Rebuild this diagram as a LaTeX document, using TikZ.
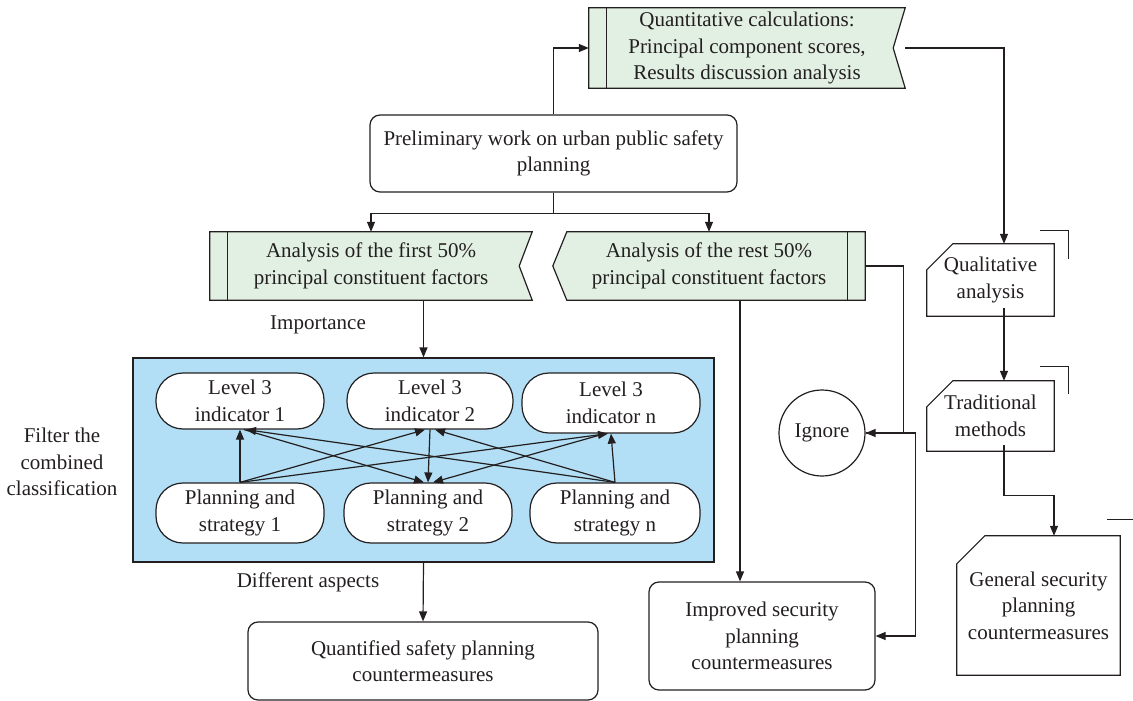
\documentclass[tikz,border=0pt]{standalone}
\usepackage{fontspec}
\setmainfont{Liberation Serif}
\usetikzlibrary{arrows.meta,backgrounds}
\definecolor{ink}{RGB}{35,31,32}
\definecolor{gfill}{RGB}{226,240,227}
\definecolor{bfill}{RGB}{178,223,246}
\begin{document}
\begin{tikzpicture}[x=1pt,y=-1pt,
  every node/.style={font=\fontsize{21}{26.5}\selectfont, text=ink, align=center, inner sep=0pt},
  conn/.style={draw=ink, line width=1.2pt},
  arr/.style={conn, -{Triangle[length=10pt,width=8pt]}},
  rbox/.style={draw=ink, line width=1.2pt, rounded corners=10pt, fill=white},
  pill/.style={draw=ink, line width=1.2pt, rounded corners=27pt, fill=white},
  banner/.style={minimum height=#1},
]
\useasboundingbox (0,0) rectangle (1133,701);

% banners (outlines on background layer)
\node[minimum width=316pt, minimum height=80pt] (quant) at (747,48)
  {Quantitative calculations:\\Principal component scores,\\Results discussion analysis};
\node[minimum width=322pt, minimum height=68pt] (lb) at (371,266)
  {Analysis of the first 50\%\\principal constituent factors};
\node[minimum width=312pt, minimum height=68pt] (rb) at (709,266)
  {Analysis of the rest 50\%\\principal constituent factors};
\begin{pgfonlayer}{background}
  \draw[conn, fill=gfill] (quant.north west) -- (quant.north east) -- ([xshift=-12pt]quant.east)
     -- (quant.south east) -- (quant.south west) -- cycle;
  \draw[conn] ([xshift=18pt]quant.north west) -- ([xshift=18pt]quant.south west);
  \draw[conn, fill=gfill] (lb.north west) -- (lb.north east) -- ([xshift=-13pt]lb.east)
     -- (lb.south east) -- (lb.south west) -- cycle;
  \draw[conn] ([xshift=18pt]lb.north west) -- ([xshift=18pt]lb.south west);
  \draw[conn, fill=gfill] ([xshift=14pt]rb.north west) -- (rb.north east) -- (rb.south east)
     -- ([xshift=14pt]rb.south west) -- (rb.west) -- cycle;
  \draw[conn] ([xshift=-18pt]rb.north east) -- ([xshift=-18pt]rb.south east);
\end{pgfonlayer}

% main boxes
\node[rbox, minimum width=367pt, minimum height=77pt] (prelim) at (553.5,153.5)
  {Preliminary work on urban public safety\\planning};
\node[draw=ink, line width=1.2pt, fill=bfill, minimum width=581pt, minimum height=204pt] (blue) at (423.5,460) {};
\node[pill, minimum width=168pt, minimum height=56pt] (i1) at (240,401) {Level 3\\indicator 1};
\node[pill, minimum width=166pt, minimum height=56pt] (i2) at (430,401) {Level 3\\indicator 2};
\node[pill, minimum width=178pt, minimum height=60pt] (i3) at (611,403) {Level 3\\indicator n};
\node[pill, minimum width=168pt, minimum height=60pt] (p1) at (240,513) {Planning and\\strategy 1};
\node[pill, minimum width=168pt, minimum height=60pt] (p2) at (428,513) {Planning and\\strategy 2};
\node[pill, minimum width=170pt, minimum height=60pt] (p3) at (615,513) {Planning and\\strategy n};
\node[rbox, minimum width=350pt, minimum height=78pt] (quantified) at (423,661)
  {Quantified safety planning\\countermeasures};
\node[rbox, minimum width=226pt, minimum height=108pt] (improved) at (762,636)
  {Improved security\\planning\\countermeasures};
\node[draw=ink, line width=1.2pt, circle, minimum size=86pt] (ignore) at (822,433) {Ignore};

% document shapes on the right
\node[minimum width=127pt, minimum height=72pt] (qual) at (990.5,280) {Qualitative\\analysis};
\node[minimum width=127pt, minimum height=70pt] (trad) at (990.5,416) {Traditional\\methods};
\node[minimum width=163pt, minimum height=139pt] (general) at (1038.5,605.5)
  {General security\\planning\\countermeasures};
\begin{pgfonlayer}{background}
  \foreach \n/\c in {qual/26, trad/26, general/28}{
    \draw[conn, fill=white] ([xshift=\c pt]\n.north west) -- (\n.north east) -- (\n.south east)
      -- (\n.south west) -- ([yshift=-\c pt]\n.north west) -- cycle;
  }
\end{pgfonlayer}
\draw[conn] ([shift={(-14,-13)}]qual.north east) -- ++(28,0) -- ++(0,28);
\draw[conn] ([shift={(-14,-14)}]trad.north east) -- ++(28,0) -- ++(0,27);
\draw[conn] ([shift={(-13,-16)}]general.north east) -- ++(28,0) -- ++(0,28);

% labels
\node (importance) at (318,325) {Importance};
\node (aspects) at (308,582) {Different aspects};
\node (filter) at (62,462) {Filter the\\combined\\classification};

% connectors
\draw[arr] (prelim.north) |- (quant.west);
\draw[arr] (prelim.south) -- ++(0,21) -| (lb.north);
\draw[arr] (prelim.south) -- ++(0,21) -| (rb.north);
\draw[arr] (quant.east) -| ([xshift=13.5pt]qual.north);
\draw[arr] ([xshift=13.5pt,yshift=8pt]qual.south) -- ([xshift=13.5pt]trad.north);
\draw[arr] ([xshift=13.5pt,yshift=6pt]trad.south) -- ++(0,50) -| ([xshift=15.5pt]general.north);
\draw[arr] (lb.south -| blue.north) -- (blue.north);
\draw[arr] (blue.south) -- (quantified.north);
\draw[arr] ([xshift=31pt]rb.south) -- ([xshift=31pt]rb.south |- improved.north);
\draw[arr] (rb.east) -- ++(38,0) |- (ignore.east);
\draw[arr] (ignore.east) -- ++(50,0) |- (improved.east);

% inner network
\draw[arr] (p1.north) -- (i1.south);
\draw[arr] (p1.north) -- ([xshift=-5pt]i2.south);
\draw[arr] (p1.north) -- ([xshift=-3pt]i3.south);
\draw[arr] (p3.north) -- (i3.south);
\draw[arr] (p3.north) -- ([xshift=5pt]i2.south);
\draw[arr] (p3.north) -- ([xshift=6pt]i1.south);
\draw[arr] ([xshift=4pt]i1.south) -- ([xshift=-4pt]p2.north);
\draw[arr] (i2.south) -- (p2.north);
\draw[arr] ([xshift=-6pt]i3.south) -- ([xshift=5pt]p2.north);
\end{tikzpicture}
\end{document}
